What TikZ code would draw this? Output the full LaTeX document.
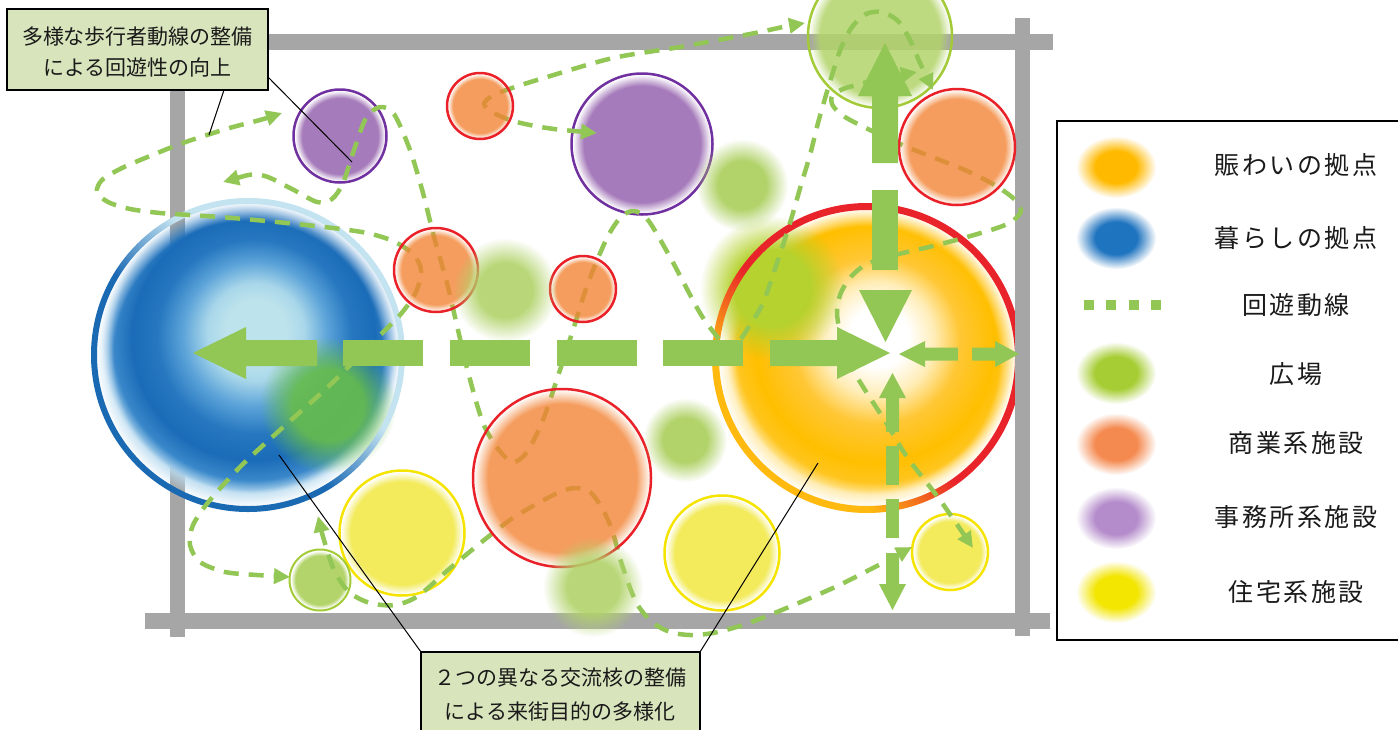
\documentclass[tikz,border=0pt]{standalone}
\usepackage{fontspec}
\newfontfamily\jpfont{Noto Sans CJK JP}
\newfontfamily\jplegend{Noto Sans CJK JP}[LetterSpace=10]
\usetikzlibrary{arrows.meta,fadings}

\definecolor{roadgray}{HTML}{A6A6A6}
\definecolor{lgreen}{HTML}{92C655}
\definecolor{boxfill}{HTML}{D8E4BC}
\definecolor{comfill}{HTML}{F38232}
\definecolor{comring}{HTML}{EA2129}
\definecolor{purpfill}{HTML}{A67BBB}
\definecolor{purpring}{HTML}{7030A0}
\definecolor{yelfill}{HTML}{F3EB5C}
\definecolor{yelring}{HTML}{F5E300}
\definecolor{grnfill}{HTML}{B3D46A}
\definecolor{grnring}{HTML}{A3CB38}
\definecolor{blobgrn}{HTML}{B2D36A}
\definecolor{bluegrn}{HTML}{68BE4A}
\definecolor{orangegrn}{HTML}{B5D22E}
\definecolor{blueD}{HTML}{1A69B3}
\definecolor{blueL}{HTML}{C4E3F1}
\definecolor{ringOr}{HTML}{FFB90F}
\definecolor{ringRd}{HTML}{E8232A}
\definecolor{txt}{HTML}{1A1A1A}
\definecolor{bA}{HTML}{BDE3EC}
\definecolor{bB}{HTML}{A9D7EA}
\definecolor{bC}{HTML}{5AA2D8}
\definecolor{bD}{HTML}{2677C0}
\definecolor{bE}{HTML}{1B6CB8}
\definecolor{bF}{HTML}{3A88CA}
\definecolor{bG}{HTML}{B8DBF0}
\definecolor{oB}{HTML}{FFEDB8}
\definecolor{oC}{HTML}{FFC735}
\definecolor{oD}{HTML}{FFBF00}
\definecolor{oE}{HTML}{FFC51E}
\definecolor{oF}{HTML}{FFE8A0}
\definecolor{legOr}{HTML}{FFBA00}
\definecolor{legBl}{HTML}{1F74C0}
\definecolor{legGr}{HTML}{A6CD33}
\definecolor{legCo}{HTML}{F58A50}
\definecolor{legPu}{HTML}{B48BCB}
\definecolor{legYe}{HTML}{F3E600}

% shadings/fadings: the path edge sits at 25bp
\pgfdeclareradialshading{diskfadeshade}{\pgfpoint{0bp}{0bp}}{color(0bp)=(white); color(21bp)=(white); color(25bp)=(black); color(50bp)=(black)}
\pgfdeclarefading{diskfade}{\pgfuseshading{diskfadeshade}}
\pgfdeclareradialshading{blobfadeshade}{\pgfpoint{0bp}{0bp}}{color(0bp)=(white); color(13bp)=(white); color(25bp)=(black); color(50bp)=(black)}
\pgfdeclarefading{blobfade}{\pgfuseshading{blobfadeshade}}
\pgfdeclareradialshading{edgefadeshade}{\pgfpoint{0bp}{0bp}}{color(0bp)=(white); color(22bp)=(white); color(25bp)=(black); color(50bp)=(black)}
\pgfdeclarefading{edgefade}{\pgfuseshading{edgefadeshade}}

\pgfdeclareradialshading{blueshade}{\pgfpoint{1.5bp}{4.5bp}}{color(0bp)=(bA); color(5bp)=(bA); color(8bp)=(bB); color(12bp)=(bC); color(16bp)=(bD); color(20bp)=(bE); color(23bp)=(bF); color(25bp)=(bG); color(50bp)=(bG)}
\pgfdeclareradialshading{orangeshade}{\pgfpoint{2.2bp}{4bp}}{color(0bp)=(white); color(5bp)=(white); color(9.5bp)=(oB); color(14bp)=(oC); color(20bp)=(oD); color(23bp)=(oE); color(25bp)=(oF); color(50bp)=(oF)}
\pgfdeclarehorizontalshading{ringO}{100bp}{color(0bp)=(ringOr); color(33bp)=(ringOr); color(46bp)=(ringRd); color(100bp)=(ringRd)}
\pgfdeclarehorizontalshading{ringB}{100bp}{color(0bp)=(blueD); color(44bp)=(blueD); color(57bp)=(blueL); color(100bp)=(blueL)}

\tikzset{
  blob/.style={fill=#1, path fading=blobfade, fit fading=true},
  disk/.style={fill=#1, path fading=diskfade, fit fading=true},
  route/.style={draw=lgreen, line width=4.5pt, dash pattern=on 15pt off 10pt, line cap=butt},
  bigarrow/.style={fill=lgreen},
  leader/.style={draw=black, line width=1pt},
  callbox/.style={draw=black, line width=2pt, fill=boxfill, inner sep=0pt, outer sep=0pt},
  calltext/.style={text=txt, inner sep=0pt, font=\jpfont\fontsize{21}{24}\selectfont},
  legtext/.style={text=txt, inner sep=0pt, font=\jplegend\fontsize{25}{28}\selectfont},
  legendbox/.style={draw=black, line width=2.2pt, fill=white, inner sep=0pt, outer sep=0pt},
}

\begin{document}
\begin{tikzpicture}[x=1pt,y=-1pt,>={Triangle[length=16pt,width=15pt]}]
\useasboundingbox (0,0) rectangle (1398,729);
\fill[white] (0,0) rectangle (1398,729);

% roads
\fill[roadgray] (170,33.5) rectangle (1053,49.5);
\fill[roadgray] (170,25) rectangle (185,637);
\fill[roadgray] (145,613) rectangle (1050,629);

% blue hub
\shade[shading=blueshade, path fading=edgefade, fit fading=true] (248,355) circle (152);
\fill[blob=bluegrn, fill opacity=0.9] (328,405) circle (68);
\shade[shading=ringB, shading angle=45, even odd rule] (248,355) circle (157) (248,355) circle (151);

% orange hub
\shade[shading=orangeshade, path fading=edgefade, fit fading=true] (867,358) circle (149);
\fill[blob=orangegrn] (772,288) circle (72);
\shade[shading=ringO, shading angle=45, even odd rule] (867,358) circle (155) (867,358) circle (148);

% right road over ring
\fill[roadgray] (1015,18) rectangle (1030,636);

% offices
\fill[disk=purpfill] (340,136) circle (45);
\draw[purpring, line width=2.5pt] (340,136) circle (46.5);
\fill[disk=purpfill] (642,144) circle (69);
\draw[purpring, line width=2.5pt] (642,144) circle (70.5);

% housing
\fill[disk=yelfill] (402,533) circle (61);
\draw[yelring, line width=2.5pt] (402,533) circle (62.5);
\fill[disk=yelfill] (722,553) circle (56);
\draw[yelring, line width=2.5pt] (722,553) circle (57.5);
\fill[disk=yelfill] (950,552) circle (36.5);
\draw[yelring, line width=2.5pt] (950,552) circle (38);

% squares with ring
\fill[disk=grnfill, fill opacity=0.85] (880,36) circle (71);
\draw[grnring, line width=2.5pt] (880,36) circle (72);
\fill[disk=grnfill] (320,580) circle (29);
\draw[grnring, line width=2pt] (320,580) circle (30.5);

% dashed routes
\draw[route, <->] plot[smooth, tension=0.5] coordinates {(282,113) (260,120) (233,127) (207,135) (180,144) (150,156) (122,168) (102,180) (97,192) (108,202) (130,209) (160,213) (190,215) (233,218) (287,223) (333,228) (367,233) (393,241) (413,254) (421,270) (416,292) (400,315) (372,343) (330,385) (280,430) (242,465) (210,500) (193,525) (190,545) (200,562) (225,572) (257,575) (290,577)};
\draw[route, <->] plot[smooth, tension=0.5] coordinates {(223,182) (260,175) (290,188) (317,202) (332,199) (343,183) (354,150) (366,118) (380,107) (394,114) (410,150) (423,193) (434,237) (447,283) (458,330) (468,372) (483,423) (499,450) (513,462) (527,452) (543,420) (559,373) (573,330) (588,283) (607,238) (621,217) (634,211) (648,220) (670,257) (700,313) (718,338) (728,352) (740,340) (750,325) (763,303) (777,263) (790,223) (801,185) (810,155) (818,123) (826,95) (833,72) (841,48) (852,27) (866,14) (882,12) (898,21) (910,40) (920,63) (933,90)};
\draw[route, <->] plot[smooth, tension=0.5] coordinates {(597,133) (547,128) (513,121) (492,112) (484,104) (492,96) (512,88) (547,77) (613,58) (680,47) (750,34) (783,27) (805,23)};
\draw[route, <->] plot[smooth, tension=0.5] coordinates {(917,72) (880,79) (860,84) (843,89) (832,96) (833,106) (845,117) (870,130) (907,147) (940,160) (967,171) (993,184) (1013,198) (1021,210) (1014,220) (1000,227) (967,237) (933,246) (907,252) (880,259) (862,267) (849,279) (840,295) (837,313) (840,332) (846,352) (853,370) (865,390) (887,424) (907,457) (940,500) (973,548)};
\draw[route, <->] plot[smooth, tension=0.5] coordinates {(318,516) (324,540) (334,570) (349,592) (370,603) (395,605) (418,596) (448,570) (478,545) (510,520) (540,502) (560,492) (575,488) (590,492) (602,508) (612,530) (622,565) (636,602) (652,622) (670,632) (690,635) (713,633) (743,625) (777,612) (833,588) (873,568) (912,547)};

% commercial
\fill[disk=comfill, fill opacity=0.78] (480,106) circle (32);
\draw[comring, line width=2.5pt] (480,106) circle (33);
\fill[disk=comfill, fill opacity=0.78] (436,270) circle (41);
\draw[comring, line width=2.5pt] (436,270) circle (42);
\fill[disk=comfill, fill opacity=0.78] (583,289) circle (32);
\draw[comring, line width=2.5pt] (583,289) circle (33);
\fill[disk=comfill, fill opacity=0.78] (562,478) circle (88);
\draw[comring, line width=2.5pt] (562,478) circle (89);
\fill[disk=comfill, fill opacity=0.78] (957,147) circle (57);
\draw[comring, line width=2.5pt] (957,147) circle (58);

% squares (blobs)
\fill[blob=blobgrn] (742,185) circle (46);
\fill[blob=blobgrn, fill opacity=0.9] (505,290) circle (52);
\fill[blob=blobgrn] (685,440) circle (42);
\fill[blob=blobgrn, fill opacity=0.9] (593,587) circle (50);

% big arrows
\fill[bigarrow] (193,353) -- (246,327) -- (246,340) -- (317,340) -- (317,366) -- (246,366) -- (246,379) -- cycle;
\fill[bigarrow] (343,340) rectangle (423,366);
\fill[bigarrow] (450,340) rectangle (530,366);
\fill[bigarrow] (557,340) rectangle (637,366);
\fill[bigarrow] (663,340) rectangle (743,366);
\fill[bigarrow] (770,340) -- (837,340) -- (837,327) -- (890,353) -- (837,379) -- (837,366) -- (770,366) -- cycle;
\fill[bigarrow] (872,163) -- (872,96) -- (858,96) -- (885,43) -- (912,96) -- (898,96) -- (898,163) -- cycle;
\fill[bigarrow] (872,190) rectangle (898,270);
\fill[bigarrow] (859,290) -- (912,290) -- (885.5,342) -- cycle;
\fill[bigarrow] (899,354) -- (925,341) -- (925,347.5) -- (958,347.5) -- (958,360.5) -- (925,360.5) -- (925,367) -- cycle;
\fill[bigarrow] (972,347.5) -- (995,347.5) -- (995,341) -- (1019,354) -- (995,367) -- (995,360.5) -- (972,360.5) -- cycle;
\fill[bigarrow] (892.5,373) -- (906,398) -- (899,398) -- (899,432) -- (886,432) -- (886,398) -- (879,398) -- cycle;
\fill[bigarrow] (886,446) rectangle (899,485);
\fill[bigarrow] (886,499) rectangle (899,538);
\fill[bigarrow] (886,553) -- (899,553) -- (899,584) -- (906,584) -- (892.5,610) -- (879,584) -- (886,584) -- cycle;

% callouts
\node[callbox, anchor=north west, minimum width=261pt, minimum height=81pt] (box1) at (7,9) {};
\node[callbox, anchor=north west, minimum width=279pt, minimum height=100pt] (box2) at (421,652) {};
\coordinate (p1) at (352,162);
\coordinate (p2) at (209,135);
\coordinate (p3) at (279,455);
\coordinate (p4) at (818,463);
\draw[leader] (box1.east) ++(0,27.5) -- (p1);
\draw[leader] (box1.south) ++(86.5,0) -- (p2);
\draw[leader] (box2.north west) -- (p3);
\draw[leader] (box2.north east) -- (p4);
\node[calltext] (c1a) at (137.5,37) {多様な歩行者動線の整備};
\node[calltext] (c1b) at (137.5,67) {による回遊性の向上};
\node[calltext] (c2a) at (560,678) {２つの異なる交流核の整備};
\node[calltext] (c2b) at (560,711) {による来街目的の多様化};

% legend
\node[legendbox, anchor=north west, minimum width=360pt, minimum height=519pt] (legend) at (1057,121) {};
\fill[blob=legOr] (1116,167) ellipse [x radius=40, y radius=31];
\fill[blob=legBl] (1116,238) ellipse [x radius=40, y radius=31];
\draw[lgreen, line width=10pt, dash pattern=on 10pt off 12.3pt] (1084,305) -- (1162,305);
\fill[blob=legGr] (1116,373) ellipse [x radius=40, y radius=31];
\fill[blob=legCo] (1116,444) ellipse [x radius=40, y radius=31];
\fill[blob=legPu] (1116,518) ellipse [x radius=40, y radius=31];
\fill[blob=legYe] (1116,592) ellipse [x radius=40, y radius=31];
\node[legtext] (lg1) at (1296,165) {賑わいの拠点};
\node[legtext] (lg2) at (1296,238) {暮らしの拠点};
\node[legtext] (lg3) at (1296,305) {回遊動線};
\node[legtext] (lg4) at (1296,374) {広場};
\node[legtext] (lg5) at (1296,443) {商業系施設};
\node[legtext] (lg6) at (1296,517) {事務所系施設};
\node[legtext] (lg7) at (1296,592) {住宅系施設};
\end{tikzpicture}
\end{document}
